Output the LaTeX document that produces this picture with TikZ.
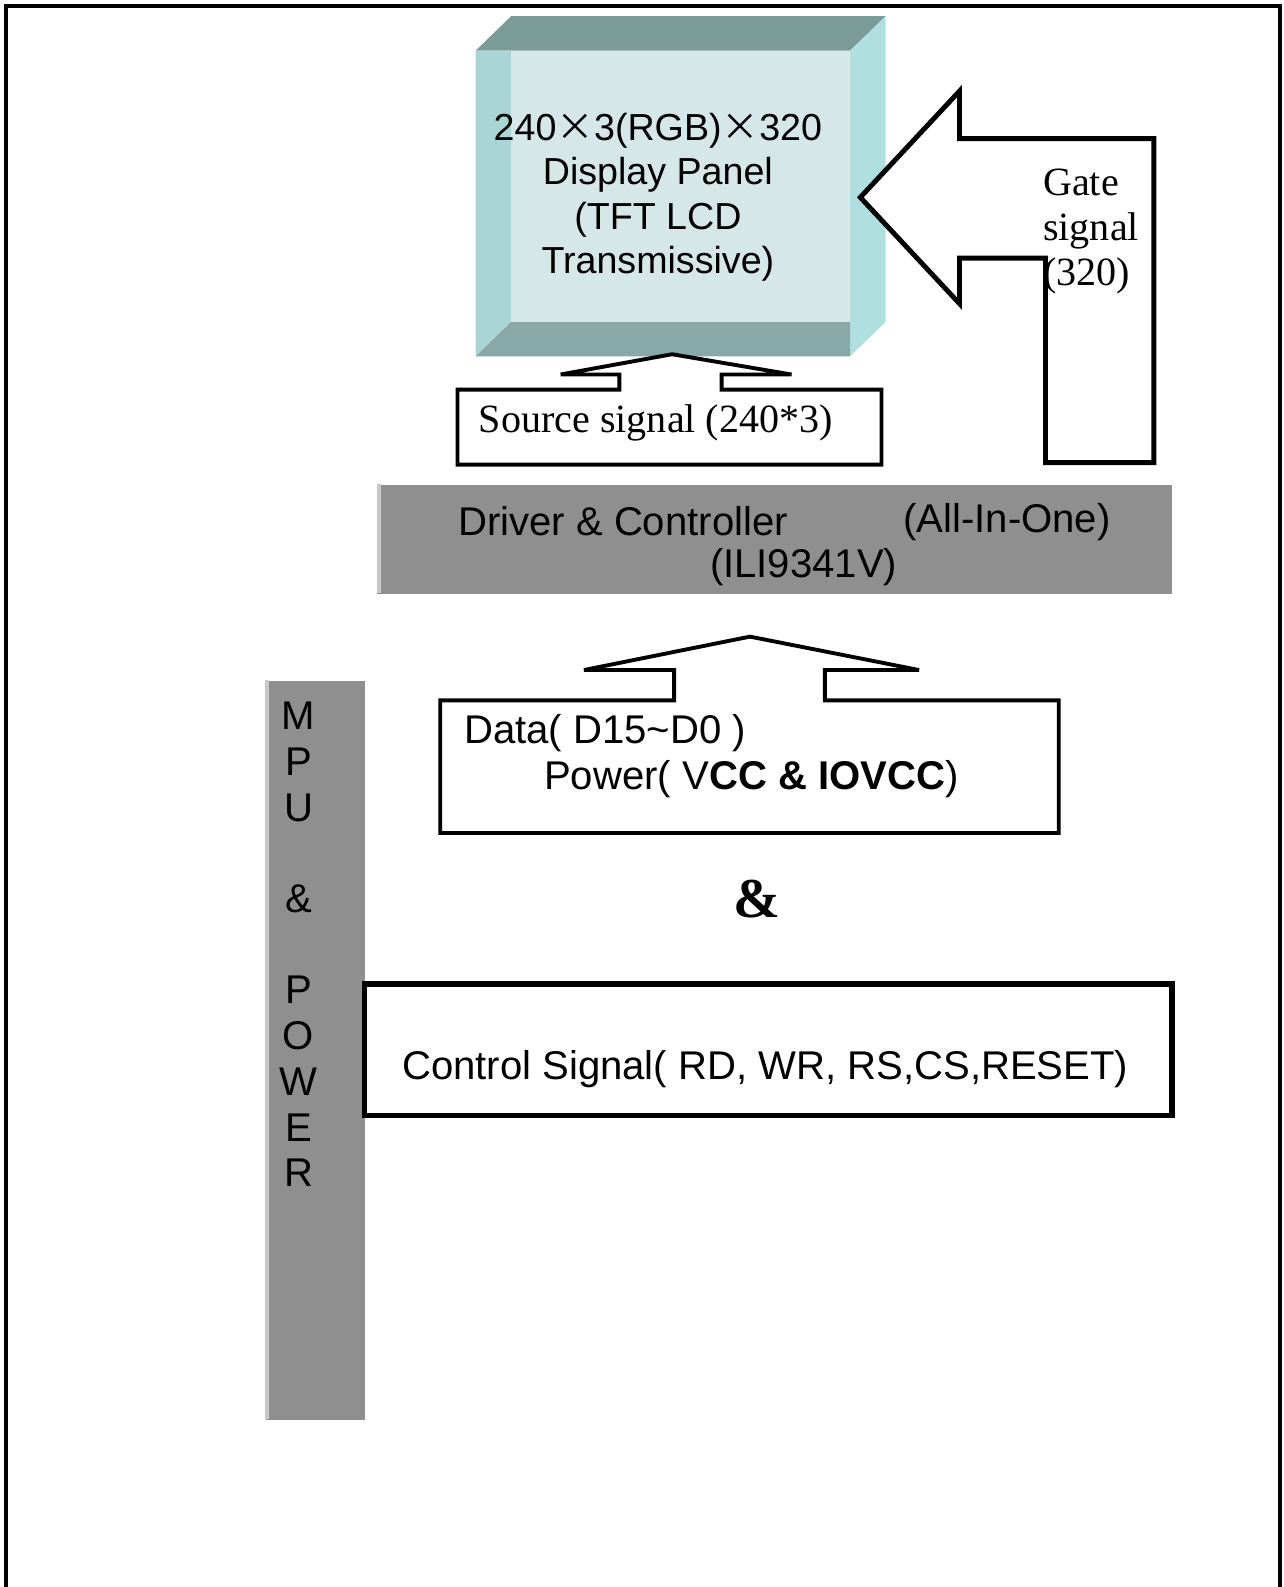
\documentclass[tikz,border=0pt]{standalone}
\usepackage{fontspec}
\setmainfont{Liberation Sans}
\newfontfamily\timesfont{Liberation Serif}
\newfontfamily\cjkfont{Noto Sans CJK SC}
\usetikzlibrary{positioning}
\definecolor{panelface}{HTML}{D6E7E7}
\definecolor{paneltop}{HTML}{7B9B99}
\definecolor{panelside}{HTML}{B0DFDF}
\definecolor{panelleft}{HTML}{A9D5D5}
\definecolor{panelbottom}{HTML}{89A9A8}
\definecolor{blockgray}{HTML}{8F8F8F}
\definecolor{blockedge}{HTML}{C8C8C8}
\newcommand{\bigx}{{\cjkfont ×}}

\begin{document}
\begin{tikzpicture}[
    x=0.01012cm, y=-0.01012cm,
    sanstext/.style={inner sep=0pt, align=center, font=\fontsize{11.4}{13}\selectfont},
    paneltext/.style={inner sep=0pt, align=center, font=\fontsize{10.7}{12.6}\selectfont},
    seriftext/.style={inner sep=0pt, align=left, font=\timesfont\fontsize{11.4}{12.8}\selectfont},
    graybar/.style={rectangle, fill=blockgray, inner sep=0pt, anchor=north west},
    blockarrow/.style={draw=black, fill=white, line width=1.1pt, line join=miter},
    frameline/.style={draw=black, line width=1.2pt}
]
\useasboundingbox (0,0) rectangle (1268,1568);

% outer frame, open at the bottom
\coordinate (frameBL) at (6,1568);
\coordinate (frameTL) at (6,6);
\coordinate (frameTR) at (1265,6);
\coordinate (frameBR) at (1265,1568);
\draw[frameline] (frameBL) -- (frameTL) -- (frameTR) -- (frameBR);

% display panel (bevelled block)
\fill[paneltop] (470,50) -- (505,16) -- (875,16) -- (840,50) -- cycle;
\fill[panelside] (840,50) -- (875,16) -- (875,318) -- (840,352) -- cycle;
\fill[panelleft] (470,50) -- (505,50) -- (505,318) -- (470,352) -- cycle;
\fill[panelbottom] (470,352) -- (505,318) -- (840,318) -- (840,352) -- cycle;
\fill[panelface] (505,50) rectangle (840,318);
\node[paneltext] (panel) at (650,195)
    {240\bigx 3(RGB)\bigx 320\\Display Panel\\(TFT LCD\\Transmissive)};

% gate signal arrow
\draw[blockarrow, line width=1.4pt] (850,195) -- (948,90) -- (948,137) -- (1140,137) -- (1140,457)
    -- (1033,457) -- (1033,255) -- (948,255) -- (948,300) -- cycle;
\node[seriftext, anchor=north west] (gate) at (1030,166) {Gate\\signal\\(320)};

% source signal arrow
\draw[blockarrow] (452,385) -- (612,385) -- (612,370) -- (554,370) -- (664,350)
    -- (782,370) -- (713,370) -- (713,385) -- (871,385) -- (871,459) -- (452,459) -- cycle;
\node[seriftext] (source) at (648,418) {Source signal (240*3)};

% driver and controller
\node[graybar, minimum width=7.94cm, minimum height=1.093cm] (driver) at (372,478) {};
\fill[blockedge] (372,478) rectangle (376,586);
\node[sanstext, anchor=west] (drvname) at (452,515) {Driver \& Controller};
\node[sanstext, anchor=east] (drvmode) at (1098,516) {(All-In-One)};
\node[sanstext] (drvchip) at (794,560) {(ILI9341V)};

% data and power arrow
\draw[blockarrow] (435,692) -- (666,692) -- (666,662) -- (577,662) -- (741,629)
    -- (908,662) -- (815,662) -- (815,692) -- (1046,692) -- (1046,823) -- (435,823) -- cycle;
\node[sanstext, anchor=west] (data) at (458,724) {Data( D15\textasciitilde D0 )};
\node[sanstext, anchor=west] (power) at (537,770) {Power( V\textbf{CC \& IOVCC})};

\node[inner sep=0pt, font=\timesfont\bfseries\fontsize{16}{18}\selectfont] (amp) at (748,888) {\&};

% mpu and power bar
\node[graybar, minimum width=0.992cm, minimum height=7.39cm] (mpu) at (262,672) {};
\fill[blockedge] (262,672) rectangle (266,1402);
\node[sanstext, anchor=north] (mpuname) at (295,693)
    {M\\P\\U\\\mbox{}\\\&\\\mbox{}\\P\\O\\W\\E\\R};

% control signal box
\draw[blockarrow, line width=1.6pt] (360,972) rectangle (1158,1102);
\node[sanstext] (control) at (756,1056) {Control Signal( RD, WR, RS,CS,RESET)};
\end{tikzpicture}
\end{document}
